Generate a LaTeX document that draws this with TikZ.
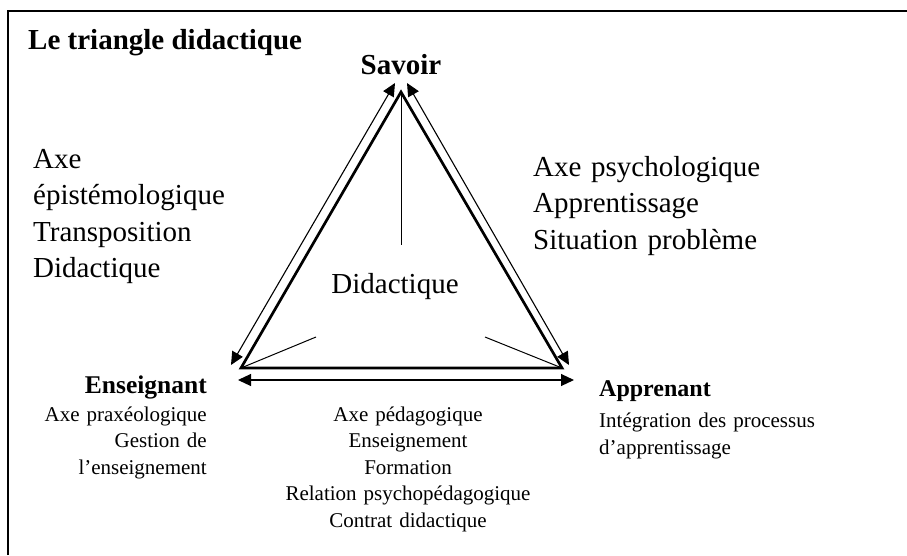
\documentclass[tikz,border=0pt]{standalone}
\usepackage{fontspec}
\setmainfont{Liberation Serif}
\usetikzlibrary{arrows.meta}
\begin{document}
\begin{tikzpicture}[x=1pt,y=-1pt,
  frameline/.style={line width=2pt},
  tri/.style={line width=2.7pt, line join=miter},
  thinline/.style={line width=1pt},
  dblarrow/.style={line width=1.1pt, {Triangle[length=13pt,width=12pt]}-{Triangle[length=13pt,width=12pt]}},
  big/.style={font=\fontsize{29}{36.5}\selectfont, inner sep=0pt},
  bigbold/.style={font=\fontsize{29}{36.5}\selectfont\bfseries, inner sep=0pt},
  small/.style={font=\fontsize{21}{26.5}\selectfont, inner sep=0pt}
]
\useasboundingbox (0,0) rectangle (907,555);
% frame
\draw[frameline] (8,555) -- (8,11) -- (907,11);
% vertices
\coordinate (S) at (401,92);
\coordinate (E) at (241,368);
\coordinate (A) at (562,368);
% triangle
\draw[tri] (S) -- (E) -- (A) -- cycle;
% inner lines
\coordinate (Sin) at (401,245);
\coordinate (Ein) at (316,337);
\coordinate (Ain) at (485,337);
\draw[thinline] (S) -- (Sin);
\draw[thinline] (E) -- (Ein);
\draw[thinline] (A) -- (Ain);
% outer double arrows
\coordinate (L1) at (395,83);
\coordinate (L2) at (231,365);
\coordinate (R1) at (407,83);
\coordinate (R2) at (569,365);
\coordinate (B1) at (238,380);
\coordinate (B2) at (574,380);
\draw[dblarrow] (L1) -- (L2);
\draw[dblarrow] (R1) -- (R2);
\draw[dblarrow] (B1) -- (B2);
% texts
\node[bigbold, anchor=base west] (title) at (28,49) {Le triangle didactique};
\node[bigbold, anchor=base] (savoir) at (401,74) {Savoir};
\node[big, anchor=base west, text width=220pt, align=left] (left) at (33,168)
  {Axe\\épistémologique\\Transposition\\Didactique};
\node[big, anchor=base west, text width=280pt, align=left] (right) at (533,176)
  {Axe psychologique\\Apprentissage\\Situation problème};
\node[big, anchor=base] (did) at (395,293) {Didactique};
\node[inner sep=0pt, font=\fontsize{25.5}{30}\selectfont\bfseries, anchor=base east] (ens) at (207,393) {Enseignant};
\node[small, anchor=base east, text width=190pt, align=right] (enstxt) at (207,421)
  {Axe praxéologique\\Gestion de\\l’enseignement};
\node[inner sep=0pt, font=\fontsize{24}{30}\selectfont\bfseries, anchor=base west] (app) at (599,396) {Apprenant};
\node[inner sep=0pt, font=\fontsize{21}{27.5}\selectfont, anchor=base west, text width=260pt, align=left] (apptxt) at (599,427)
  {\makebox[246pt][s]{Intégration des processus}\\d’apprentissage};
\node[small, anchor=base, text width=300pt, align=center] (bottom) at (408,421)
  {Axe pédagogique\\Enseignement\\Formation\\Relation psychopédagogique\\Contrat didactique};
\end{tikzpicture}
\end{document}
